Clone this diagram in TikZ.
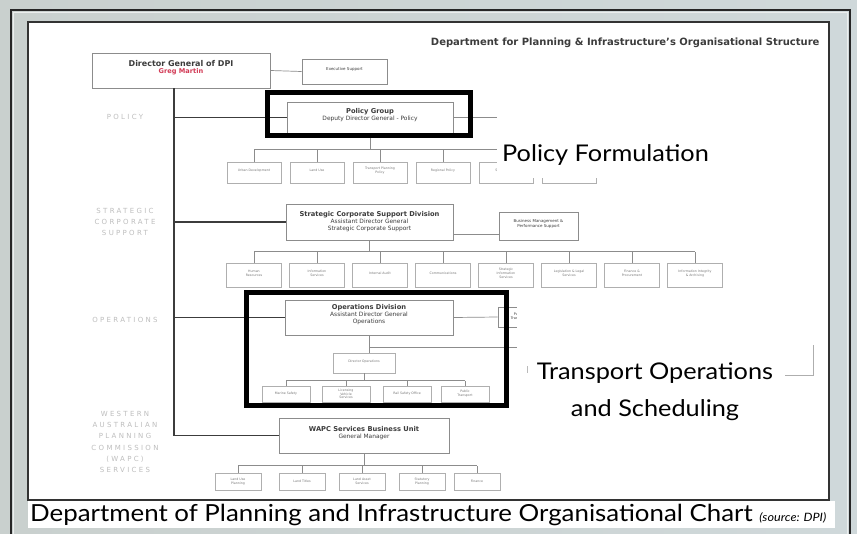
\documentclass[tikz,border=0pt]{standalone}
\usepackage{fontspec}
\setmainfont{DejaVu Sans}
\newfontfamily\notefont[FakeStretch=1.1]{Lato}
\usetikzlibrary{positioning}
\definecolor{SlideGrey}{HTML}{C9D0CE}
\definecolor{SlideBlue}{HTML}{D9E5EC}
\definecolor{OrgLine}{HTML}{8C8C8C}
\definecolor{OrgInk}{HTML}{3C3C3C}
\definecolor{OrgRed}{HTML}{D23A55}
\definecolor{LaneInk}{HTML}{BEBEBE}
\newcommand\divhead[1]{{\bfseries\fontsize{6.7}{8}\selectfont #1}}

\begin{document}
\begin{tikzpicture}[x=1pt, y=-1pt,
  division/.style={draw=OrgLine, line width=0.9pt, fill=white, align=center, text=OrgInk, font=\fontsize{5.9}{7}\selectfont, inner sep=1pt},
  unit/.style={draw=OrgLine!70, line width=0.6pt, fill=white, align=center, text=OrgInk!70, font=\fontsize{3.2}{3.8}\selectfont, inner sep=1pt},
  link/.style={draw=OrgLine, line width=0.7pt},
  spine/.style={draw=OrgInk, line width=1.8pt},
  lane/.style={text=LaneInk, font=\fontsize{7}{11.3}\selectfont\addfontfeature{LetterSpace=33}, align=center},
  hilite/.style={draw=black, line width=5pt},
  note/.style={text=black, font=\notefont\fontsize{23}{37}\selectfont, align=center}]
\shade[left color=SlideGrey, right color=SlideGrey!60!SlideBlue] (0,0) rectangle (857,533);
\useasboundingbox (0,0) rectangle (857,533);
% slide frame and page
\draw[black!85, line width=1.6pt] (11,10) rectangle (850,545);
\draw[white!65!SlideGrey, line width=1pt] (13.5,12.5) rectangle (847.5,545);
\draw[draw=black!80, fill=white, line width=1.2pt] (28,22) rectangle (829,500);

\node[font=\bfseries\fontsize{10}{11}\selectfont, text=OrgInk, anchor=east] (title) at (823,43) {Department for Planning \& Infrastructure's Organisational Structure};

% lanes
\node[lane] (lanepol) at (125,117) {POLICY};
\node[lane] (lanescs) at (125,222) {STRATEGIC\\CORPORATE\\SUPPORT};
\node[lane] (laneops) at (125,320) {OPERATIONS};
\node[lane] (lanewapc) at (125,442) {WESTERN\\AUSTRALIAN\\PLANNING\\COMMISSION\\(WAPC)\\SERVICES};

% divisions
\node[division, minimum width=178, minimum height=35] (dg) at (181,70.5) {{\bfseries\fontsize{8}{9}\selectfont Director General of DPI}\\ \textcolor{OrgRed}{\bfseries\fontsize{6.6}{7.5}\selectfont Greg Martin}\\ \mbox{}};
\node[division, minimum width=85, minimum height=25, font=\fontsize{4}{5}\selectfont] (exec) at (344.5,71.5) {Executive Support\\ \mbox{}};
\node[division, minimum width=166, minimum height=31] (policy) at (370,117.5) {\divhead{Policy Group}\\ Deputy Director General - Policy\\ \mbox{}};
\node[division, minimum width=167, minimum height=36] (scsd) at (369.5,222) {\divhead{Strategic Corporate Support Division}\\ Assistant Director General\\ Strategic Corporate Support};
\node[division, minimum width=79, minimum height=28, font=\fontsize{4}{5}\selectfont] (bmps) at (538.5,226) {Business Management \&\\ Performance Support\\ \mbox{}};
\node[division, minimum width=168, minimum height=35] (ops) at (369,317.5) {\divhead{Operations Division}\\ Assistant Director General\\ Operations\\ \mbox{}};
\node[division, minimum width=42, minimum height=20, font=\fontsize{3.5}{4}\selectfont] (opx) at (519,317) {Public\\ Transport};
\node[unit, minimum width=62, minimum height=20] (dirops) at (364,363) {Director Operations\\ \mbox{}};
\node[division, minimum width=170, minimum height=35] (wapc) at (364,435.5) {\divhead{WAPC Services Business Unit}\\ General Manager\\ \mbox{}};

% units
\foreach \i/\txt in {1/{Urban Development},2/{Land Use},3/{Transport Planning\\ Policy},4/{Regional Policy},5/{Spatial Policy},6/{Infrastructure}}
  \node[unit, minimum width=54, minimum height=21] (pol\i) at ({254+63*(\i-1)},172.5) {\txt\\ \mbox{}};
\foreach \i/\txt in {1/{Human\\ Resources},2/{Information\\ Services},3/{Internal Audit},4/{Communications},5/{Strategic\\ Information\\ Services},6/{Legislation \& Legal\\ Services},7/{Finance \&\\ Procurement},8/{Information Integrity\\ \& Archiving}}
  \node[unit, minimum width=55, minimum height=24] (sup\i) at ({254+63*(\i-1)},275) {\txt\\ \mbox{}};
\foreach \i/\x/\txt in {1/286/{Marine Safety},2/346/{Licensing\\ Vehicle\\ Services},3/407/{Rail Safety Office},4/465/{Public\\ Transport}}
  \node[unit, minimum width=48, minimum height=16] (opr\i) at (\x,394) {\txt};
\foreach \i/\x/\txt in {1/238/{Land Use\\ Planning},2/302/{Land Titles},3/362/{Land Asset\\ Services},4/422/{Statutory\\ Planning},5/477/{Finance}}
  \node[unit, minimum width=46, minimum height=17] (wsu\i) at (\x,481.5) {\txt};

% spine and branches
\coordinate (sp) at (174,0);
\draw[spine] (dg.south -| sp) |- (wapc.west);
\foreach \d in {policy,scsd,ops}
  \draw[spine] (\d.west -| sp) -- (\d.west);
\draw[link] (dg.east) -- (exec.west);

% policy units
\draw[link] (policy.east) -- ++(60,0);
\draw[link] (policy.south) -- ([yshift=12pt]policy.south |- pol1.north);
\draw[link] ([yshift=12pt]pol1.north) -- ([yshift=12pt]pol6.north);
\foreach \i in {1,...,6}
  \draw[link] (pol\i.north) -- ++(0,-12);

% corporate support units
\draw[link] ([yshift=-12pt]scsd.east) -- ([yshift=-12pt]scsd.east -| bmps.west);
\draw[link] (scsd.south) -- ([yshift=11pt]scsd.south |- sup1.north);
\draw[link] ([yshift=11pt]sup1.north) -- ([yshift=11pt]sup8.north);
\foreach \i in {1,...,8}
  \draw[link] (sup\i.north) -- ++(0,-11);

% operations units
\coordinate (opsjoin) at ([yshift=-12pt]ops.south);
\draw[link] (ops.east) -- (opx.west);
\draw[link] (ops.south) -- (ops.south |- dirops.north);
\draw[link] (opsjoin) -- ++(175,0);
\draw[link] (dirops.south) -- ([yshift=5pt]dirops.south |- opr1.north);
\draw[link] ([yshift=5pt]opr1.north) -- ([yshift=5pt]opr4.north);
\foreach \i in {1,...,4}
  \draw[link] (opr\i.north) -- ++(0,-5);

% wapc units
\draw[link] (wapc.south) -- ([yshift=7pt]wapc.south |- wsu1.north);
\draw[link] ([yshift=7pt]wsu1.north) -- ([yshift=7pt]wsu5.north);
\foreach \i in {1,...,5}
  \draw[link] (wsu\i.north) -- ++(0,-7);

% call-outs
\fill[white] (497,100) rectangle (716,178);
\fill[white] (517,298) rectangle (785,432);
\draw[link, OrgLine!70] (785,375) -- (813,375) -- (813,345);
\draw[link, OrgLine!60] (527,366) -- (527,373);
\node[note] (polnote) at (605.5,155) {Policy Formulation};
\node[note] (opsnote) at (655,392) {Transport Operations\\and Scheduling};
\draw[hilite] (267.5,92.5) rectangle (470,135.5);
\draw[hilite] (246.5,292.5) rectangle (506,405);

% caption
\fill[white] (28,500.6) rectangle (835,528);
\node[anchor=base west, font=\notefont\fontsize{23.5}{26}\selectfont, inner sep=0pt] (caption) at (30,521.5) {Department of Planning and Infrastructure Organisational Chart {\itshape\fontsize{11.5}{14}\selectfont (source: DPI)}};
\end{tikzpicture}
\end{document}
